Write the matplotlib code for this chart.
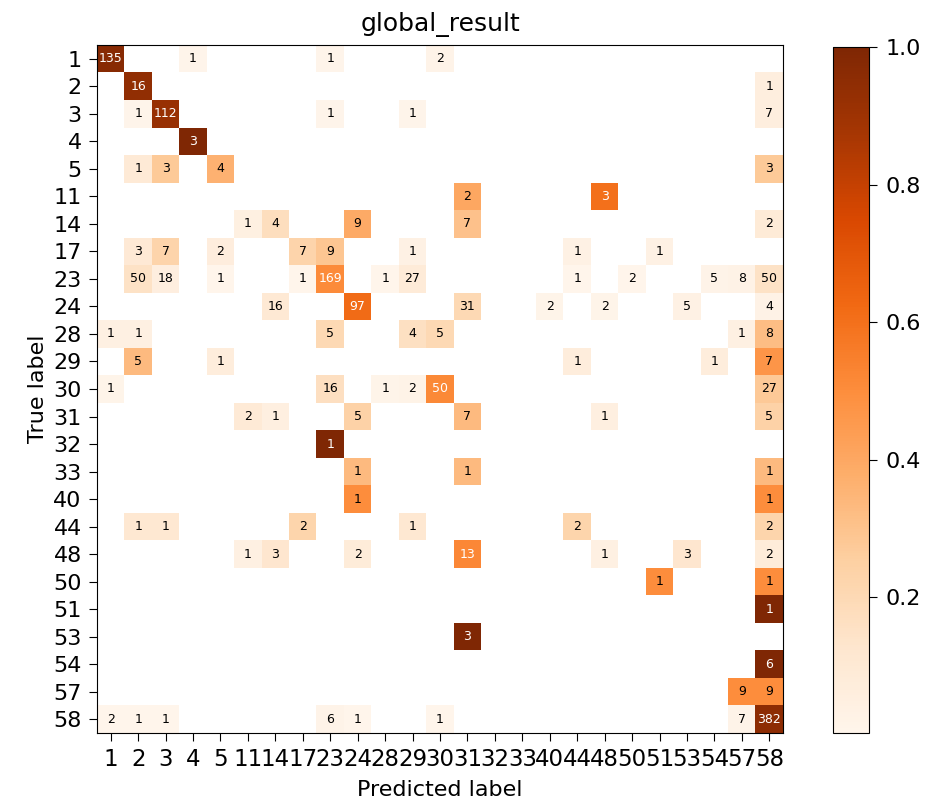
import numpy as np
import matplotlib
matplotlib.use("Agg")
import matplotlib.pyplot as plt

labels = [1, 2, 3, 4, 5, 11, 14, 17, 23, 24, 28, 29, 30, 31, 32, 33,
          40, 44, 48, 50, 51, 53, 54, 57, 58]

# nonzero counts per true label: {predicted label: count}
row_1 = {1: 135, 4: 1, 23: 1, 30: 2}
row_2 = {2: 16, 58: 1}
row_3 = {2: 1, 3: 112, 23: 1, 29: 1, 58: 7}
row_4 = {4: 3}
row_5 = {2: 1, 3: 3, 5: 4, 58: 3}
row_11 = {31: 2, 48: 3}
row_14 = {11: 1, 14: 4, 24: 9, 31: 7, 58: 2}
row_17 = {2: 3, 3: 7, 5: 2, 17: 7, 23: 9, 29: 1, 44: 1, 51: 1}
row_23 = {2: 50, 3: 18, 5: 1, 17: 1, 23: 169, 28: 1, 29: 27, 44: 1,
          50: 2, 54: 5, 57: 8, 58: 50}
row_24 = {14: 16, 24: 97, 31: 31, 40: 2, 48: 2, 53: 5, 58: 4}
row_28 = {1: 1, 2: 1, 23: 5, 29: 4, 30: 5, 57: 1, 58: 8}
row_29 = {2: 5, 5: 1, 44: 1, 54: 1, 58: 7}
row_30 = {1: 1, 23: 16, 28: 1, 29: 2, 30: 50, 58: 27}
row_31 = {11: 2, 14: 1, 24: 5, 31: 7, 48: 1, 58: 5}
row_32 = {23: 1}
row_33 = {24: 1, 31: 1, 58: 1}
row_40 = {24: 1, 58: 1}
row_44 = {2: 1, 3: 1, 17: 2, 29: 1, 44: 2, 58: 2}
row_48 = {11: 1, 14: 3, 24: 2, 31: 13, 48: 1, 53: 3, 58: 2}
row_50 = {51: 1, 58: 1}
row_51 = {58: 1}
row_53 = {31: 3}
row_54 = {58: 6}
row_57 = {57: 9, 58: 9}
row_58 = {1: 2, 2: 1, 3: 1, 23: 6, 24: 1, 30: 1, 57: 7, 58: 382}

rows = [row_1, row_2, row_3, row_4, row_5, row_11, row_14, row_17, row_23,
        row_24, row_28, row_29, row_30, row_31, row_32, row_33, row_40,
        row_44, row_48, row_50, row_51, row_53, row_54, row_57, row_58]

n = len(labels)
cm = np.zeros((n, n))
for i, r in enumerate(rows):
    for k, v in r.items():
        cm[i, labels.index(k)] = v

norm = cm / cm.sum(axis=1, keepdims=True)
shown = np.where(norm > 0, norm, np.nan)

cmap = plt.get_cmap("Oranges").copy()
cmap.set_bad("white")

W, H = 925, 807
fig = plt.figure(figsize=(W / 100, H / 100), dpi=100)
ax = fig.add_axes([97 / W, 1 - 733 / H, 686 / W, 688 / H])
cax = fig.add_axes([833 / W, 1 - 733 / H, 36 / W, 686 / H])

im = ax.imshow(shown, cmap=cmap, interpolation="nearest", aspect="auto")
cb = fig.colorbar(im, cax=cax)
cb.set_ticks([0.2, 0.4, 0.6, 0.8, 1.0])
cb.ax.tick_params(labelsize=16, length=6, pad=6)

ax.set_title("global_result", fontsize=18, pad=10)
ax.set_xticks(range(n))
ax.set_xticklabels([str(l) for l in labels], fontsize=16.5)
ax.set_yticks(range(n))
ax.set_yticklabels([str(l) for l in labels], fontsize=16)
ax.tick_params(length=6, pad=5)
ax.set_xlabel("Predicted label", fontsize=16, labelpad=6)
ax.set_ylabel("True label", fontsize=16)

thresh = np.nanmax(shown) / 2.0
for i in range(n):
    for j in range(n):
        if cm[i, j] > 0:
            ax.text(j, i, "%d" % cm[i, j], ha="center", va="center", fontsize=9,
                    color="white" if norm[i, j] > thresh else "black")

fig.savefig("out.png", dpi=100)
